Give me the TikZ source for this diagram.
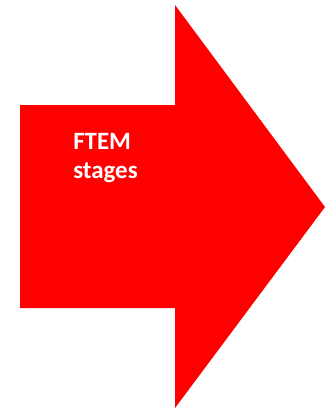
\documentclass[tikz,border=0pt]{standalone}
\usepackage{fontspec}
\setmainfont{Carlito}
\usepackage{xcolor}
\usetikzlibrary{positioning}
\definecolor{arrowred}{HTML}{FF0000}
\tikzset{
  bigarrow/.style={fill=arrowred,draw=none},
  arrowtext/.style={text=white,font=\fontsize{18.7}{21.75}\selectfont\bfseries,align=left,inner sep=0pt}
}

\begin{document}
\begin{tikzpicture}[x=0.75pt,y=-0.75pt]
  \useasboundingbox (0,0) rectangle (325,411);
  \fill[bigarrow] (20,105) -- (175,105) -- (175,5) -- (325,207) -- (175,408) -- (175,308) -- (20,308) -- cycle;
  \node[arrowtext,anchor=base west] (stages) at (73,178) {FTEM\\stages};
\end{tikzpicture}
\end{document}
